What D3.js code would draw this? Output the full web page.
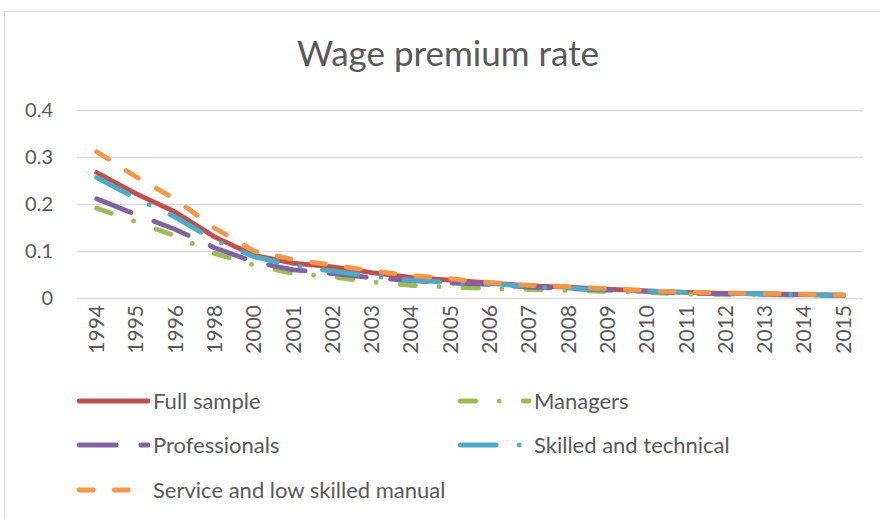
<!DOCTYPE html>
<html>
<head>
<meta charset="utf-8">
<script src="https://cdn.jsdelivr.net/npm/d3@7"></script>
<style>
  body { margin:0; background:#fff; }
  svg { display:block; font-family:Lato, "Open Sans", sans-serif; }
</style>
</head>
<body>
<svg id="chart"></svg>
<script>
var years = ["1994","1995","1996","1998","2000","2001","2002","2003","2004","2005",
             "2006","2007","2008","2009","2010","2011","2012","2013","2014","2015"];

var fullSample = [0.267,0.222,0.183,0.130,0.091,0.074,0.066,0.054,0.044,0.038,
                  0.032,0.026,0.023,0.019,0.015,0.012,0.010,0.009,0.007,0.006];
var managers = [0.191,0.162,0.132,0.095,0.070,0.052,0.045,0.034,0.027,0.023,
                0.020,0.018,0.016,0.014,0.012,0.008,0.008,0.007,0.006,0.005];
var professionals = [0.211,0.178,0.146,0.107,0.077,0.060,0.052,0.043,0.037,0.032,
                     0.029,0.023,0.020,0.017,0.014,0.010,0.009,0.008,0.007,0.005];
var skilled = [0.256,0.212,0.172,0.123,0.088,0.069,0.057,0.047,0.038,0.033,
               0.031,0.024,0.021,0.018,0.015,0.012,0.010,0.008,0.007,0.006];
var service = [0.311,0.258,0.210,0.149,0.100,0.082,0.070,0.058,0.048,0.041,
               0.033,0.027,0.024,0.020,0.016,0.012,0.011,0.009,0.008,0.006];

var seriesNames = ["Full sample","Managers","Professionals","Skilled and technical","Service and low skilled manual"];
var yTicks = [0,0.1,0.2,0.3,0.4];

var series = [
  {name:seriesNames[0], values:fullSample,    color:"#C0504D", dash:null},
  {name:seriesNames[1], values:managers,      color:"#9BBB59", dash:"15.5,23.5,0,24"},
  {name:seriesNames[2], values:professionals, color:"#8064A2", dash:"37,24.5"},
  {name:seriesNames[3], values:skilled,       color:"#4BACC6", dash:"36,23,0,23"},
  {name:seriesNames[4], values:service,       color:"#F79646", dash:"14,21"}
];

var W = 880, H = 519;
var svg = d3.select("#chart").attr("width",W).attr("height",H);

// chart border
svg.append("rect")
   .attr("x",4.5).attr("y",11.5)
   .attr("width",W).attr("height",H)
   .attr("fill","#fff")
   .attr("stroke","#D9D9D9");

svg.append("text")
   .attr("x",448).attr("y",66)
   .attr("text-anchor","middle")
   .attr("font-size","35px")
   .attr("fill","#595959")
   .text("Wage premium rate");

var xScale = d3.scaleBand().domain(years).range([77,863]);
var yScale = d3.scaleLinear().domain([0,0.4]).range([298,110]);

//gridlines
svg.append("g").selectAll("line")
   .data(yTicks)
   .enter()
   .append("line")
   .attr("x1",77).attr("x2",863)
   .attr("y1",function(d){ return Math.round(yScale(d))+0.5; })
   .attr("y2",function(d){ return Math.round(yScale(d))+0.5; })
   .attr("stroke","#D9D9D9")
   .attr("stroke-width",1.3);

var yAxis = d3.axisLeft(yScale)
              .tickValues(yTicks)
              .tickSize(0)
              .tickPadding(0)
              .tickFormat(function(d){ return d===0 ? "0" : d3.format(".1f")(d); });
var gy = svg.append("g")
            .attr("transform","translate(53,0)")
            .call(yAxis);
gy.select(".domain").remove();
gy.selectAll("text")
  .attr("font-size","20px")
  .attr("font-family","Lato, sans-serif")
  .attr("fill","#595959");

var xAxis = d3.axisBottom(xScale).tickSize(0).tickPadding(0);
var gx = svg.append("g")
            .attr("transform","translate(0,305)")
            .call(xAxis);
gx.select(".domain").remove();
gx.selectAll("text")
  .attr("font-size","21px")
  .attr("font-family","Lato, sans-serif")
  .attr("fill","#595959")
  .attr("text-anchor","end")
  .attr("dy","0.35em")
  .attr("transform","rotate(-90)");

var line = d3.line()
             .x(function(d,i){ return xScale(years[i]) + xScale.bandwidth()/2; })
             .y(function(d){ return yScale(d); });

var plot = svg.append("g").classed("plot",true);
plot.selectAll("path")
    .data(series)
    .enter()
    .append("path")
    .attr("d",function(d){ return line(d.values); })
    .attr("fill","none")
    .attr("stroke",function(d){ return d.color; })
    .attr("stroke-width",4.8)
    .attr("stroke-linecap","round")
    .attr("stroke-linejoin","round")
    .attr("stroke-dasharray",function(d){ return d.dash; });

// legend, two columns
var legendPos = [[77,401],[458,401],[77,445],[458,445],[77,490]];
var legend = svg.append("g").classed("legend",true);
var items = legend.selectAll("g")
                  .data(series)
                  .enter()
                  .append("g")
                  .attr("transform",function(d,i){ return "translate("+legendPos[i][0]+","+legendPos[i][1]+")"; });
items.append("path")
     .attr("d","M2.25,0H71")
     .attr("fill","none")
     .attr("stroke",function(d){ return d.color; })
     .attr("stroke-width",4.8)
     .attr("stroke-linecap","round")
     .attr("stroke-dasharray",function(d){ return d.dash; });
items.append("text")
     .attr("x",76)
     .attr("y",0)
     .attr("dy","0.35em")
     .attr("font-size","22px")
     .attr("fill","#595959")
     .text(function(d){ return d.name; });
</script>
</body>
</html>
